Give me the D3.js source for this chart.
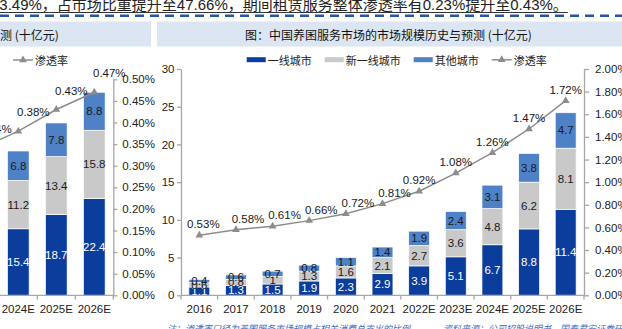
<!DOCTYPE html>
<html><head><meta charset="utf-8">
<script src="https://cdn.jsdelivr.net/npm/d3@7"></script>
<style>
body{margin:0;background:#fff;}
svg{display:block;}
text{font-family:"Liberation Sans",Arial,"Noto Sans CJK SC",sans-serif;}
.cjk{font-family:"Noto Sans CJK SC",sans-serif;}
</style></head><body>
<svg id="c" width="622" height="329"></svg>
<script>
// ---- main chart data ----
const categories=["2016","2017","2018","2019","2020","2021","2022E","2023E","2024E","2025E","2026E"];
const tier1=[1.1,1.3,1.5,1.9,2.3,2.9,3.9,5.1,6.7,8.8,11.4];
const newTier1=[0.6,0.8,1,1.3,1.6,2.1,2.7,3.6,4.8,6.2,8.1];
const otherCities=[0.4,0.6,0.7,0.8,1.1,1.4,1.9,2.4,3.1,3.8,4.7];
const penetration=[0.53,0.58,0.61,0.66,0.72,0.81,0.92,1.08,1.26,1.47,1.72];
const leftTicks=[0,5,10,15,20,25,30];
const rightTicks=[0,0.2,0.4,0.6,0.8,1.0,1.2,1.4,1.6,1.8,2.0];
const seriesNames=["一线城市","新一线城市","其他城市"];
const lineName="渗透率";
const titleText="图：中国养囷服务市场的市场规模历史与预测 (十亿元)";
// ---- partially visible previous chart ----
const prevCategories=["2023E","2024E","2025E","2026E"];
const prevA=[null,15.4,18.7,22.4];
const prevB=[null,11.2,13.4,15.8];
const prevC=[null,6.8,7.8,8.8];
const prevPenetration=[0.34,0.38,0.43,0.47];
const prevRightTicks=[0,0.05,0.1,0.15,0.2,0.25,0.3,0.35,0.4,0.45,0.5];
const prevTitle="测 (十亿元)";
const topText="23.49%，占市场比重提升至47.66%，期间租赁服务整体渗透率有0.23%提升至0.43%。";
const noteText="注：渗透率口径为养囷服务市场规模占相关消费总支出的比例";
const sourceText="资料来源：公司招股说明书，国泰君安证券研究";

const colors=["#0b3d9c","#c9c9c9","#4f81c7"];
const lineColor="#8c8c8c";
const axisColor="#a6a6a6";
const FS=11.5;
const svg=d3.select("#c");

// top text + underline + dashed separator
const tt=svg.append("text").attr("x",-9).attr("y",9.5).attr("font-size",15).attr("fill","#222").text(topText);
const tl=tt.node().getComputedTextLength();
svg.append("line").attr("x1",0).attr("x2",tl-9).attr("y1",12.5).attr("y2",12.5).attr("stroke","#333").attr("stroke-width",1);
svg.append("line").attr("x1",0).attr("x2",622).attr("y1",15.8).attr("y2",15.8).attr("stroke","#2555a5").attr("stroke-width",2.5).attr("stroke-dasharray","9,6");

// title boxes
svg.append("rect").attr("x",0).attr("y",21.5).attr("width",151).attr("height",25).attr("fill","#dce6f2");
svg.append("rect").attr("x",157).attr("y",21.5).attr("width",465).attr("height",25).attr("fill","#dce6f2");
svg.append("text").attr("class","cjk").attr("x",0).attr("y",34).attr("dominant-baseline","central").attr("font-size",12).attr("fill","#111").text(prevTitle);
svg.append("text").attr("class","cjk").attr("x",245).attr("y",34).attr("dominant-baseline","central").attr("font-size",12).attr("fill","#111").text(titleText);

function drawChart(cfg){
  const g=svg.append("g");
  const x=d3.scaleBand().domain(cfg.cats).range(cfg.xr).paddingInner(0.43).paddingOuter(0.215);
  const y=d3.scaleLinear().domain(cfg.yd).range([295.3,cfg.top]);
  const y2=d3.scaleLinear().domain(cfg.y2d).range([295.3,cfg.top]);
  const rows=cfg.cats.map((c,i)=>({cat:c,a:cfg.A[i],b:cfg.B[i],c:cfg.C[i]}));
  const stack=d3.stack().keys(["a","b","c"]).value((d,k)=>d[k]==null?0:d[k]);
  const st=stack(rows);
  st.forEach((s,si)=>{
    const sg=g.append("g");
    sg.selectAll("rect").data(s.filter(d=>d.data[s.key]!=null)).join("rect")
      .attr("x",d=>x(d.data.cat)).attr("width",x.bandwidth())
      .attr("y",d=>y(d[1])).attr("height",d=>y(d[0])-y(d[1]))
      .attr("fill",colors[si]).attr("stroke","#fff").attr("stroke-width",0.7);
    sg.selectAll("text").data(s.filter(d=>d.data[s.key]!=null)).join("text")
      .attr("x",d=>x(d.data.cat)+x.bandwidth()/2).attr("y",d=>(y(d[0])+y(d[1]))/2)
      .attr("text-anchor","middle").attr("dominant-baseline","central")
      .attr("font-size",FS).attr("fill",si===0?"#fff":"#1a1a1a")
      .text(d=>d3.format("")(d.data[s.key]));
  });
  // bottom axis line and boundary ticks
  const r0=x.range()[0], step=x.step();
  g.append("line").attr("x1",Math.max(0,r0)).attr("x2",x.range()[1]).attr("y1",295.3).attr("y2",295.3).attr("stroke",axisColor).attr("stroke-width",1.3);
  g.selectAll(".bt").data(d3.range(cfg.cats.length+1)).join("line")
    .attr("x1",k=>r0+k*step).attr("x2",k=>r0+k*step).attr("y1",295.3).attr("y2",299.5)
    .attr("stroke",axisColor).attr("stroke-width",1.3);
  const xa=g.append("g").attr("transform","translate(0,295.3)").call(d3.axisBottom(x).tickSize(0).tickPadding(10));
  xa.select(".domain").remove();
  xa.selectAll("text").attr("font-size",FS).attr("fill","#222").attr("font-family","Liberation Sans, Arial");
  // value axes
  if(cfg.leftAxis){
    const la=g.append("g").attr("transform",`translate(${cfg.xr[0]},0)`)
      .call(d3.axisLeft(y).tickValues(cfg.lt).tickSize(4).tickSizeOuter(0).tickPadding(2.5));
    la.select(".domain").attr("stroke",axisColor).attr("stroke-width",1.3);
    la.selectAll(".tick line").attr("stroke",axisColor).attr("stroke-width",1.3);
    la.selectAll("text").attr("font-size",FS).attr("fill","#222").attr("font-family","Liberation Sans, Arial");
  }
  const ra=g.append("g").attr("transform",`translate(${cfg.xr[1]},0)`)
    .call(d3.axisRight(y2).tickValues(cfg.rt).tickSize(cfg.rts).tickSizeOuter(0).tickPadding(cfg.rtp).tickFormat(v=>d3.format(".2f")(v)+"%"));
  ra.select(".domain").attr("stroke",axisColor).attr("stroke-width",1.3);
  ra.selectAll(".tick line").attr("stroke",axisColor).attr("stroke-width",1.3);
  ra.selectAll("text").attr("font-size",FS).attr("fill","#222").attr("font-family","Liberation Sans, Arial");
  // line
  const pts=cfg.cats.map((c,i)=>({cat:c,v:cfg.L[i],i}));
  const cx=d=>x(d.cat)+x.bandwidth()/2;
  g.append("path").datum(pts).attr("fill","none").attr("stroke",lineColor).attr("stroke-width",1.5)
    .attr("d",d3.line().x(cx).y(d=>y2(d.v)));
  g.selectAll(".mk").data(pts).join("path")
    .attr("transform",d=>`translate(${cx(d)},${y2(d.v)})`)
    .attr("d",d3.symbol(d3.symbolTriangle).size(26)).attr("fill",lineColor);
  g.selectAll(".lb").data(pts).join("text")
    .attr("x",d=>cx(d)+cfg.ldx(d.i)).attr("y",d=>y2(d.v)-cfg.ldy)
    .attr("text-anchor","middle").attr("dominant-baseline","central")
    .attr("font-size",FS).attr("fill","#1a1a1a").text(d=>d3.format(".2f")(d.v)+"%");
}

// previous chart (left, partially visible)
drawChart({cats:prevCategories,xr:[113.3-4*38,113.3],yd:[0,50],y2d:[0,0.5],top:79.3,
  A:prevA,B:prevB,C:prevC,L:prevPenetration,leftAxis:false,rt:prevRightTicks,rts:4,rtp:5,
  ldx:i=>15,ldy:19});
// main chart
drawChart({cats:categories,xr:[181,584],yd:[0,30],y2d:[0,2],top:69,
  A:tier1,B:newTier1,C:otherCities,L:penetration,leftAxis:true,lt:leftTicks,rt:rightTicks,rts:5,rtp:6,
  ldx:i=>i===0?4:(i<=5?12:0),ldy:11});

// legends
function legendLine(x0,yc,label){
  svg.append("line").attr("x1",x0).attr("x2",x0+20).attr("y1",yc).attr("y2",yc).attr("stroke",lineColor).attr("stroke-width",1.5);
  svg.append("path").attr("transform",`translate(${x0+10},${yc})`).attr("d",d3.symbol(d3.symbolTriangle).size(26)).attr("fill",lineColor);
  const t=svg.append("text").attr("class","cjk").attr("x",x0+22).attr("y",yc).attr("dominant-baseline","central").attr("font-size",11).attr("fill","#222").text(label);
  return x0+22+t.node().getComputedTextLength();
}
legendLine(13,60,lineName);
let lx=246.7;
seriesNames.forEach((n,i)=>{
  svg.append("rect").attr("x",lx).attr("y",57.2).attr("width",19).attr("height",5).attr("fill",colors[i]);
  const t=svg.append("text").attr("class","cjk").attr("x",lx+21).attr("y",59.8).attr("dominant-baseline","central").attr("font-size",11).attr("fill","#222").text(n);
  lx=lx+21+t.node().getComputedTextLength()+13;
});
legendLine(lx,59.8,lineName);

// notes (cut at bottom edge)
svg.append("text").attr("class","cjk").attr("x",167).attr("y",332).attr("font-size",9).attr("font-style","italic").attr("fill","#3a6bc4").text(noteText);
svg.append("text").attr("class","cjk").attr("x",443).attr("y",332).attr("font-size",9).attr("font-style","italic").attr("fill","#3a6bc4").text(sourceText);
</script>
</body></html>
